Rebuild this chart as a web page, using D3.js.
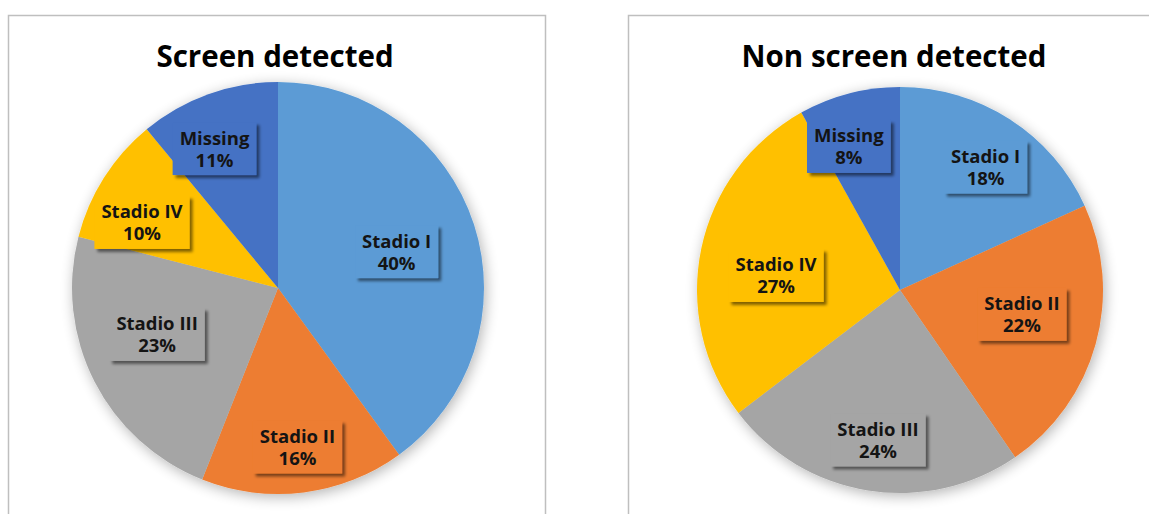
<!DOCTYPE html>
<html><head><meta charset="utf-8">
<script src="https://cdn.jsdelivr.net/npm/d3@7"></script>
<style>
html,body{margin:0;padding:0;background:#fff;}
svg{display:block;}
</style></head>
<body>
<svg id="chart" width="1149" height="514"></svg>
<script>
// ---- data ----
const categories = ["Stadio I", "Stadio II", "Stadio III", "Stadio IV", "Missing"];
const screenValues = [40, 16, 23, 10, 11];
const nonScreenValues = [18, 22, 24, 27, 8];
const titles = ["Screen detected", "Non screen detected"];
const colors = ["#5B9BD5", "#ED7D31", "#A5A5A5", "#FFC000", "#4472C4"];

// ---- layout (not data): label radius ratio and angle nudge in degrees ----
const labelLayoutScreen = [[0.603, 0.7], [0.775, 0.2], [0.628, 6.2], [0.734, -6.5], [0.746, -4.6]];
const labelLayoutNon = [[0.74, 2.0], [0.612, -4.4], [0.744, -0.7], [0.615, -4.9], [0.753, -5.0]];

const svg = d3.select("#chart");
const defs = svg.append("defs");
const pieShadow = defs.append("filter").attr("id","pieShadow")
  .attr("x","-20%").attr("y","-20%").attr("width","140%").attr("height","140%");
pieShadow.append("feGaussianBlur").attr("in","SourceAlpha").attr("stdDeviation",7).attr("result","b");
pieShadow.append("feOffset").attr("in","b").attr("dx",2).attr("dy",3).attr("result","o");
pieShadow.append("feComponentTransfer").attr("in","o").attr("result","s")
  .append("feFuncA").attr("type","linear").attr("slope",0.3);
const m1 = pieShadow.append("feMerge");
m1.append("feMergeNode").attr("in","s");
m1.append("feMergeNode").attr("in","SourceGraphic");

const boxShadow = defs.append("filter").attr("id","boxShadow")
  .attr("x","-20%").attr("y","-30%").attr("width","150%").attr("height","170%");
boxShadow.append("feGaussianBlur").attr("in","SourceAlpha").attr("stdDeviation",1.8).attr("result","b");
boxShadow.append("feOffset").attr("in","b").attr("dx",3).attr("dy",3).attr("result","o");
boxShadow.append("feComponentTransfer").attr("in","o").attr("result","s")
  .append("feFuncA").attr("type","linear").attr("slope",0.5);
const m2 = boxShadow.append("feMerge");
m2.append("feMergeNode").attr("in","s");
m2.append("feMergeNode").attr("in","SourceGraphic");

const panels = [
  {x:8, y:15, w:537, h:520, cx:278, cy:288, r:206, tx:275, title:titles[0], values:screenValues, lay:labelLayoutScreen},
  {x:628, y:15, w:540, h:520, cx:900, cy:290, r:203, tx:894, title:titles[1], values:nonScreenValues, lay:labelLayoutNon}
];

const pie = d3.pie().sort(null).value(d => d.v);

panels.forEach(p => {
  svg.append("rect").attr("x", p.x+0.5).attr("y", p.y+0.5).attr("width", p.w).attr("height", p.h)
    .attr("fill","#fff").attr("stroke","#bfbfbf").attr("stroke-width",1.5);

  svg.append("text").attr("x", p.tx).attr("y", 67).attr("text-anchor","middle")
    .attr("font-family","'Open Sans', sans-serif").attr("font-weight","bold")
    .attr("font-size",29.5).attr("fill","#000").text(p.title);

  const data = categories.map((c,i)=>({c, v:p.values[i], color:colors[i], lay:p.lay[i]}));
  const arcs = pie(data);
  const arc = d3.arc().innerRadius(0).outerRadius(p.r);
  const g = svg.append("g").attr("transform",`translate(${p.cx},${p.cy})`);
  g.append("g").attr("filter","url(#pieShadow)")
    .selectAll("path").data(arcs).join("path")
    .attr("d", arc).attr("fill", d=>d.data.color);

  const lg = g.append("g");
  arcs.forEach(a => {
    const mid = (a.startAngle + a.endAngle)/2 + a.data.lay[1]*Math.PI/180;
    const rr = a.data.lay[0] * p.r;
    const lx = rr*Math.sin(mid), ly = -rr*Math.cos(mid);
    const grp = lg.append("g").attr("transform",`translate(${lx},${ly})`);
    const rect = grp.append("rect").attr("fill", a.data.color).attr("filter","url(#boxShadow)");
    const l1 = grp.append("text").attr("text-anchor","middle").attr("x",0).attr("y",-3.5)
      .attr("font-family","'Open Sans', sans-serif").attr("font-weight","bold")
      .attr("font-size",18.5).attr("fill","#141414").text(a.data.c);
    const l2 = grp.append("text").attr("text-anchor","middle").attr("x",0).attr("y",18.5)
      .attr("font-family","'Open Sans', sans-serif").attr("font-weight","bold")
      .attr("font-size",18.5).attr("fill","#141414").text(Math.round(a.data.v)+"%");
    const w = Math.max(l1.node().getComputedTextLength(), l2.node().getComputedTextLength());
    rect.attr("x", -w/2-7).attr("y", -26).attr("width", w+14).attr("height", 53);
  });
});
</script>
</body></html>
